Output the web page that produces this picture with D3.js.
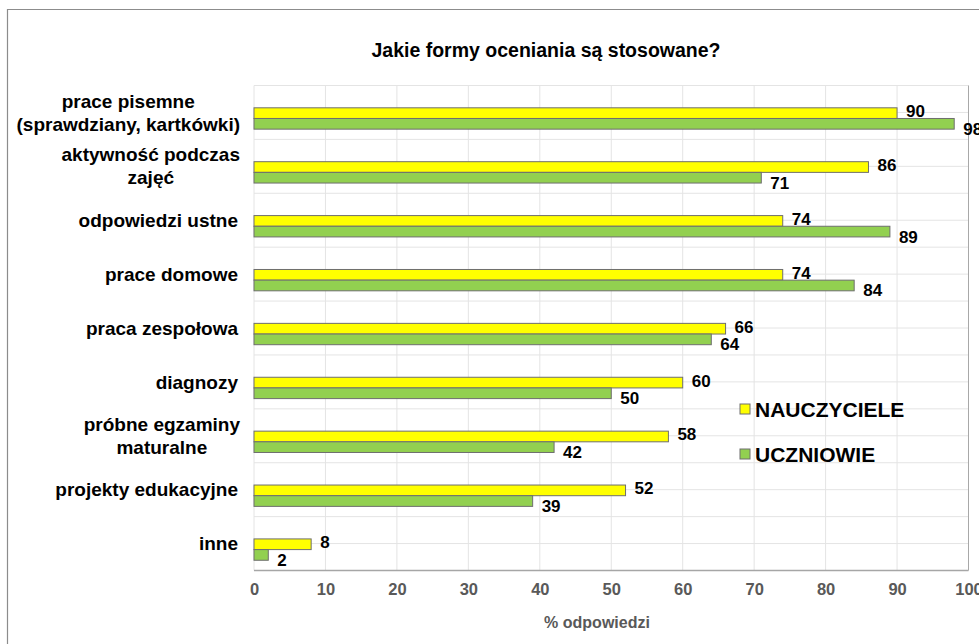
<!DOCTYPE html>
<html><head><meta charset="utf-8">
<script src="https://cdn.jsdelivr.net/npm/d3@7"></script>
<style>html,body{margin:0;padding:0;background:#fff;}svg{display:block;font-family:"Liberation Sans",Arial,sans-serif;}</style>
</head><body>
<svg id="chart" width="979" height="644"></svg>
<script>
const categories = [
  ["prace pisemne", "(sprawdziany, kartkówki)"],
  ["aktywność podczas", "zajęć"],
  ["odpowiedzi ustne"],
  ["prace domowe"],
  ["praca zespołowa"],
  ["diagnozy"],
  ["próbne egzaminy", "maturalne"],
  ["projekty edukacyjne"],
  ["inne"]
];
const nauczyciele = [90, 86, 74, 74, 66, 60, 58, 52, 8];
const uczniowie   = [98, 71, 89, 84, 64, 50, 42, 39, 2];
const seriesNames = ["NAUCZYCIELE", "UCZNIOWIE"];
const xTicks = [0, 10, 20, 30, 40, 50, 60, 70, 80, 90, 100];
const title = "Jakie formy oceniania są stosowane?";
const xTitle = "% odpowiedzi";

const colors = ["#FFFF00", "#92D050"];
const svg = d3.select("#chart");
const font = '"Liberation Sans",Arial,sans-serif';

// outer frame
svg.append("path").attr("d","M7.5,644 V9.5 H979").attr("fill","none").attr("stroke","#8c8c8c").attr("stroke-width",1.2);

const x = d3.scaleLinear().domain([0,100]).range([254, 968.5]);
const keys = categories.map((c,i)=>i);
const y = d3.scaleBand().domain(keys).range([85.5, 570.5]).padding(0);
const bw = y.bandwidth();

// grid
const g = svg.append("g");
const hLines = [];
keys.forEach(k=>{ hLines.push(y(k)); hLines.push(y(k)+bw/2); });
g.selectAll("line.h").data(hLines).join("line")
  .attr("x1", x(0)).attr("x2", x(100)).attr("y1", d=>d).attr("y2", d=>d)
  .attr("stroke","#e4e4e4").attr("stroke-width",1);
g.selectAll("line.v").data(xTicks.slice(0,-1)).join("line")
  .attr("x1", d=>x(d)).attr("x2", d=>x(d)).attr("y1", y.range()[0]).attr("y2", y.range()[1])
  .attr("stroke","#e4e4e4").attr("stroke-width",1);
// right border
g.append("line").attr("x1",x(100)).attr("x2",x(100)).attr("y1",y.range()[0]).attr("y2",y.range()[1]).attr("stroke","#a8a8a8");

// bars
const barH = bw*0.198;
const series = [nauczyciele, uczniowie];
series.forEach((vals, s)=>{
  svg.append("g").selectAll("rect").data(vals).join("rect")
    .attr("x", x(0))
    .attr("y", (d,i)=> y(i) + bw*0.414 + s*barH)
    .attr("width", d=> x(d)-x(0))
    .attr("height", barH)
    .attr("fill", colors[s])
    .attr("stroke", "#6e6e6e").attr("stroke-width", 1);
  svg.append("g").selectAll("text").data(vals).join("text")
    .attr("x", d=> x(d)+9)
    .attr("y", (d,i)=> y(i) + bw*0.414 + s*barH + barH/2 + (s===1?5:-2))
    .attr("dy","0.35em")
    .attr("font-family",font).attr("font-weight","bold").attr("font-size",17).attr("fill","#000")
    .text(d=>d);
});

// bottom axis line
svg.append("line").attr("x1",x(0)).attr("x2",x(100)).attr("y1",y.range()[1]).attr("y2",y.range()[1])
  .attr("stroke","#a6a6a6").attr("stroke-width",1.5);

// x tick labels
const xAxis = d3.axisBottom(x).tickValues(xTicks).tickSize(0).tickPadding(13).tickFormat(d3.format("d"));
const ax = svg.append("g").attr("transform",`translate(0,${y.range()[1]})`).call(xAxis);
ax.select(".domain").remove();
ax.selectAll("text").attr("font-family",font).attr("font-weight","bold").attr("font-size",16.5).attr("fill","#595959");

// x title
svg.append("text").attr("x", 597).attr("y", 628).attr("text-anchor","middle")
  .attr("font-family",font).attr("font-weight","bold").attr("font-size",16).attr("fill","#595959").text(xTitle);

// title
svg.append("text").attr("x", 546).attr("y", 57).attr("text-anchor","middle")
  .attr("font-family",font).attr("font-weight","bold").attr("font-size",19.5).attr("fill","#000").text(title);

// category labels
const labelRight = 238;
const lineH = 23;
categories.forEach((lines, i)=>{
  const cy = y(i) + bw/2;
  const t = svg.append("text").attr("font-family",font).attr("font-weight","bold").attr("font-size",19).attr("fill","#000");
  const n = lines.length;
  const spans = lines.map((ln, j)=> t.append("tspan").attr("y", cy + (j-(n-1)/2)*lineH).attr("dy","0.35em").text(ln));
  let maxW = 0;
  spans.forEach(sp=>{ maxW = Math.max(maxW, sp.node().getComputedTextLength()); });
  if (n===1) { spans[0].attr("x", labelRight).attr("text-anchor","end"); }
  else { spans.forEach(sp=> sp.attr("x", labelRight + 2 - maxW/2).attr("text-anchor","middle")); }
});

// legend
const leg = svg.append("g");
seriesNames.forEach((name, s)=>{
  const ly = 409 + s*45;
  leg.append("rect").attr("x",740).attr("y",ly-5).attr("width",10).attr("height",10)
    .attr("fill",colors[s]).attr("stroke","#6e6e6e");
  leg.append("text").attr("x",755).attr("y",ly).attr("dy","0.36em")
    .attr("font-family",font).attr("font-weight","bold").attr("font-size",21).attr("fill","#000").text(name);
});
</script>
</body></html>
